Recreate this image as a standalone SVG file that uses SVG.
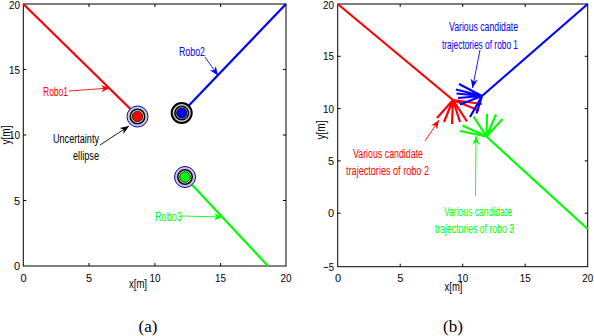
<svg xmlns="http://www.w3.org/2000/svg" width="594" height="336" viewBox="0 0 594 336">
<style>
text{font-family:"Liberation Sans",Arial,sans-serif}
.tk{font-size:11px;fill:#000}
.lab{font-size:12.5px}
.box{fill:none;stroke:#000;stroke-width:1}
.tick{stroke:#000;stroke-width:1}
.traj{fill:none;stroke-width:2.2;stroke-linecap:butt}
.fan{fill:none;stroke-width:2.2}
.ann{fill:none;stroke-width:0.9}
.cap{font-family:"Liberation Serif","Times New Roman",serif;font-size:17px}
</style>
<defs>
<marker id="ak" viewBox="0 0 10 10" refX="10" refY="5" markerWidth="9" markerHeight="9" markerUnits="userSpaceOnUse" orient="auto"><path d="M0,1 L10,5 L0,9 L3,5 Z" fill="#000"/></marker>
<marker id="ar" viewBox="0 0 10 10" refX="10" refY="5" markerWidth="9" markerHeight="9" markerUnits="userSpaceOnUse" orient="auto"><path d="M0,1 L10,5 L0,9 L3,5 Z" fill="#f00"/></marker>
<marker id="ab" viewBox="0 0 10 10" refX="10" refY="5" markerWidth="9" markerHeight="9" markerUnits="userSpaceOnUse" orient="auto"><path d="M0,1 L10,5 L0,9 L3,5 Z" fill="#00f"/></marker>
<marker id="ag" viewBox="0 0 10 10" refX="10" refY="5" markerWidth="9" markerHeight="9" markerUnits="userSpaceOnUse" orient="auto"><path d="M0,1 L10,5 L0,9 L3,5 Z" fill="#0f0"/></marker>
</defs>
<rect width="594" height="336" fill="#fff"/>

<!-- Left plot axes -->
<g id="axesA">
<rect class="box" x="23.3" y="4" width="262.7" height="262"/>
<path class="tick" d="M89,266v-3M154.9,266v-3M220.6,266v-3M89,4v3M154.9,4v3M220.6,4v3M23.3,200.5h3M23.3,135h3M23.3,69.5h3M286,200.5h-3M286,135h-3M286,69.5h-3"/>
<g class="tk" text-anchor="end">
<text x="20" y="8.5" textLength="11" lengthAdjust="spacingAndGlyphs">20</text>
<text x="20" y="73.5" textLength="11" lengthAdjust="spacingAndGlyphs">15</text>
<text x="20" y="139" textLength="11" lengthAdjust="spacingAndGlyphs">10</text>
<text x="20" y="204.5">5</text>
<text x="20" y="270">0</text>
</g>
<g class="tk" text-anchor="middle">
<text x="23.5" y="282">0</text>
<text x="89" y="282">5</text>
<text x="155" y="282" textLength="11" lengthAdjust="spacingAndGlyphs">10</text>
<text x="220.6" y="282" textLength="11" lengthAdjust="spacingAndGlyphs">15</text>
<text x="286" y="282" textLength="11" lengthAdjust="spacingAndGlyphs">20</text>
<text x="138" y="288" font-size="12" textLength="18" lengthAdjust="spacingAndGlyphs">x[m]</text>
<text transform="translate(10,135) rotate(-90)" font-size="12" textLength="19" lengthAdjust="spacingAndGlyphs">y[m]</text>
</g>
</g>

<g id="trajA">
<path class="traj" stroke="#f00" d="M23.3,4L133,111.5"/>
<path class="traj" stroke="#00f" d="M286,4L186,108.5"/>
<path class="traj" stroke="#0f0" d="M189,181.5L268,266"/>
</g>

<g id="robo1">
<circle cx="137.5" cy="116.5" r="10.5" fill="#ccc" stroke="#00c" stroke-width="1"/>
<circle cx="137.5" cy="116.5" r="8" fill="#fff" stroke="none"/>
<circle cx="137.5" cy="116.5" r="7.2" fill="none" stroke="#000" stroke-width="1.6"/>
<circle cx="137.5" cy="116.5" r="5.3" fill="#f00" stroke="#000" stroke-width="0.8"/>
</g>
<g id="robo2">
<circle cx="181.7" cy="113" r="10" fill="#ccc" stroke="#000" stroke-width="2"/>
<circle cx="181.7" cy="113" r="7.5" fill="#fff" stroke="none"/>
<circle cx="181.7" cy="113" r="6.8" fill="none" stroke="#000" stroke-width="1.6"/>
<circle cx="181.7" cy="113" r="5.2" fill="#00f" stroke="#000" stroke-width="0.8"/>
</g>
<g id="robo3">
<circle cx="185" cy="177" r="10.5" fill="#ccc" stroke="#00c" stroke-width="1"/>
<circle cx="185" cy="177" r="8" fill="#fff" stroke="none"/>
<circle cx="185" cy="177" r="7.2" fill="none" stroke="#000" stroke-width="1.6"/>
<circle cx="185" cy="177" r="5.3" fill="#0f0" stroke="#000" stroke-width="0.8"/>
</g>

<g id="annA">
<path class="ann" stroke="#f00" d="M69,91L110,88" marker-end="url(#ar)"/>
<path class="ann" stroke="#00f" d="M205,57L218,75.5" marker-end="url(#ab)"/>
<path class="ann" stroke="#000" d="M100,145L129,126" marker-end="url(#ak)"/>
<path class="ann" stroke="#0f0" d="M182,216L223,217" marker-end="url(#ag)"/>
</g>
<g id="labelsA" class="lab">
<text x="43" y="95.5" fill="#f00" textLength="25" lengthAdjust="spacingAndGlyphs">Robo1</text>
<text x="179" y="55.5" fill="#00f" textLength="26" lengthAdjust="spacingAndGlyphs">Robo2</text>
<text x="155" y="220.5" fill="#0f0" textLength="27" lengthAdjust="spacingAndGlyphs">Robo3</text>
<text x="53" y="142.5" fill="#000" textLength="46" lengthAdjust="spacingAndGlyphs">Uncertainty</text>
<text x="73" y="160" fill="#000" textLength="26" lengthAdjust="spacingAndGlyphs">ellipse</text>
</g>

<!-- Right plot axes -->
<g id="axesB">
<rect class="box" x="337.7" y="4" width="250" height="262.7"/>
<path class="tick" d="M400.2,266.7v-3M462.7,266.7v-3M525.2,266.7v-3M400.2,4v3M462.7,4v3M525.2,4v3M337.7,213.2h3M337.7,160.9h3M337.7,108.6h3M337.7,56.3h3M587.7,213.2h-3M587.7,160.9h-3M587.7,108.6h-3M587.7,56.3h-3"/>
<g class="tk" text-anchor="end">
<text x="334" y="8.5" textLength="11" lengthAdjust="spacingAndGlyphs">20</text>
<text x="334" y="60.3" textLength="11" lengthAdjust="spacingAndGlyphs">15</text>
<text x="334" y="112.6" textLength="11" lengthAdjust="spacingAndGlyphs">10</text>
<text x="334" y="164.9">5</text>
<text x="334" y="217.2">0</text>
<text x="334" y="270.7" textLength="11" lengthAdjust="spacingAndGlyphs">−5</text>
</g>
<g class="tk" text-anchor="middle">
<text x="338" y="282">0</text>
<text x="400.2" y="282">5</text>
<text x="462.7" y="282" textLength="11" lengthAdjust="spacingAndGlyphs">10</text>
<text x="525.2" y="282" textLength="11" lengthAdjust="spacingAndGlyphs">15</text>
<text x="587.7" y="282" textLength="11" lengthAdjust="spacingAndGlyphs">20</text>
<text x="453.5" y="291" font-size="12" textLength="18" lengthAdjust="spacingAndGlyphs">x[m]</text>
<text transform="translate(325,130) rotate(-90)" font-size="12" textLength="19" lengthAdjust="spacingAndGlyphs">y[m]</text>
</g>
</g>

<g id="trajB">
<path class="traj" stroke="#f00" d="M337.7,4L453,100"/>
<path class="traj" stroke="#00f" d="M587.7,4L482,96"/>
<path class="traj" stroke="#0f0" d="M486.5,136.5L587.7,229"/>
</g>

<g id="fanRed">
<path class="fan" stroke="#f00" d="M453,100L482,104M453,100L479,110.5M453,100L467,121.5M453,100L460,122M453,100L452,124M453,100L444,122M453,100L437,118"/>
</g>
<g id="fanBlue">
<path class="fan" stroke="#00f" d="M482,96L459,84M482,96L456,89.5M482,96L456.5,93.5M482,96L458,98M482,96L460,104.5M482,96L470,117M482,96L476.5,113.5"/>
</g>
<g id="fanGreen">
<path class="fan" stroke="#0f0" d="M486.5,136.5L460,131M486.5,136.5L462.5,125.5M486.5,136.5L473.5,116.5M486.5,136.5L487,114M486.5,136.5L496,114.5M486.5,136.5L502.5,119"/>
</g>

<g id="annB">
<path class="ann" stroke="#00f" d="M480,50L472.5,88" marker-end="url(#ab)"/>
<path class="ann" stroke="#f00" d="M425,141L439,120" marker-end="url(#ar)"/>
<path class="ann" stroke="#0f0" d="M475.5,196L476,136" marker-end="url(#ag)"/>
</g>
<g id="labelsB" class="lab">
<text x="449" y="30.5" fill="#00f" textLength="69" lengthAdjust="spacingAndGlyphs">Various candidate</text>
<text x="442" y="48.5" fill="#00f" textLength="76" lengthAdjust="spacingAndGlyphs">trajectories of robo 1</text>
<text x="353" y="157.5" fill="#f00" textLength="70" lengthAdjust="spacingAndGlyphs">Various candidate</text>
<text x="346" y="175" fill="#f00" textLength="83" lengthAdjust="spacingAndGlyphs">trajectories of robo 2</text>
<text x="444" y="216" fill="#0f0" textLength="68" lengthAdjust="spacingAndGlyphs">Various candidate</text>
<text x="435" y="233" fill="#0f0" textLength="79" lengthAdjust="spacingAndGlyphs">trajectories of robo 3</text>
</g>

<text class="cap" x="148" y="332" text-anchor="middle">(a)</text>
<text class="cap" x="453" y="332" text-anchor="middle">(b)</text>
</svg>
